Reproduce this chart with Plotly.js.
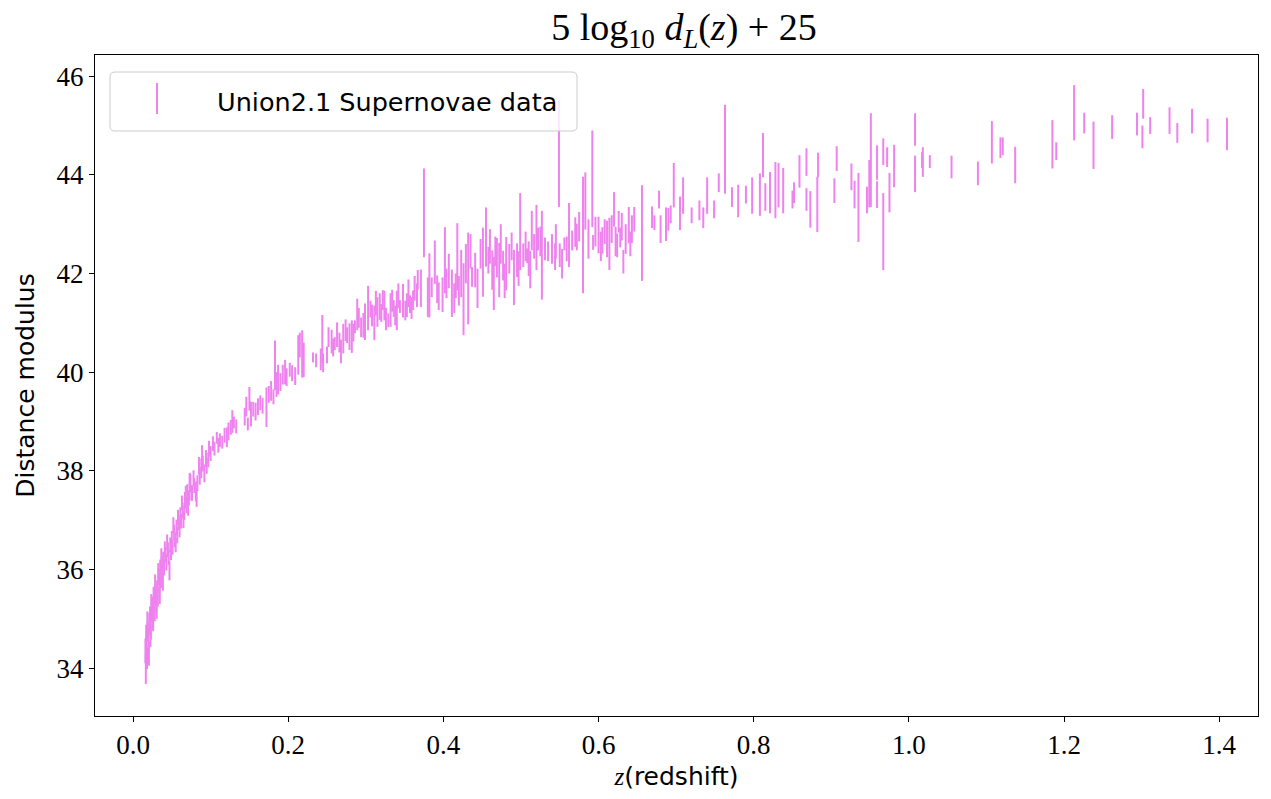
<!DOCTYPE html>
<html>
<head>
<meta charset="utf-8">
<script src="https://cdn.plot.ly/plotly-3.0.1.min.js"></script>
<style>html,body{margin:0;padding:0;background:#fff;}#chart{width:1271px;height:799px;}</style>
</head>
<body>
<div id="chart"></div>
<script>
// ---- Data: redshift z, distance modulus mu, error (half length) ----
const zLow = [0.0165,0.016,0.017,0.018,0.019,0.020,0.021,0.022,0.023,0.024,0.025,0.026,0.027,0.028,0.029,0.030,0.031,0.032,0.033,0.034,0.035,0.036,0.037,0.038,0.039,0.040,
  0.042,0.043,0.045,0.046,0.047,0.048,0.050,0.051,0.053,0.054,0.056,0.057,0.059,
  0.061,0.062,0.064,0.066,0.067,0.069,0.070,0.072,0.073,
  0.076,0.079,0.081,0.083,0.086,0.088,0.090,0.092,0.094,0.097,0.100];
const muLow = [33.98,34.35,34.60,34.20,34.75,34.55,34.90,35.05,34.80,35.10,35.25,34.95,35.35,35.15,35.50,35.30,35.60,35.45,35.85,35.70,36.00,35.80,36.10,35.95,36.20,36.05,
  36.30,36.15,36.40,36.25,35.98,36.50,36.62,36.45,36.75,36.60,36.85,36.70,36.95,
  37.10,36.98,37.20,37.15,37.40,37.30,37.55,37.45,37.68,
  37.55,37.70,37.58,37.75,37.90,38.05,38.15,37.95,38.25,38.22,38.35];
const errLow = [0.30,0.25,0.28,0.22,0.20,0.25,0.22,0.20,0.22,0.18,0.20,0.20,0.18,0.20,0.18,0.17,0.18,0.20,0.17,0.18,0.20,0.18,0.17,0.18,0.16,0.17,
  0.16,0.17,0.15,0.16,0.20,0.15,0.16,0.15,0.16,0.15,0.16,0.17,0.15,
  0.16,0.15,0.16,0.15,0.17,0.16,0.18,0.15,0.28,
  0.16,0.15,0.20,0.16,0.18,0.20,0.16,0.18,0.17,0.15,0.15];

const zLowB = [0.0175,0.0185,0.0205,0.0225,0.0235,0.0255,0.0265,0.0285,0.0305,0.0325,0.0345,0.0365,0.0385,
  0.041,0.044,0.049,0.052,0.055,0.058,0.060,0.063,0.065,0.068,0.071,0.074,0.078,0.082,0.085,0.089,0.095,0.098];
const muLowB = [34.45,34.90,34.30,34.65,35.30,35.00,35.45,35.70,35.20,35.95,35.50,36.25,35.75,
  36.40,36.55,36.35,36.90,36.50,37.05,36.80,37.35,37.00,37.55,37.25,37.75,37.85,37.45,38.10,38.35,38.10,38.45];
const errLowB = [0.30,0.25,0.25,0.22,0.20,0.22,0.20,0.20,0.20,0.18,0.20,0.18,0.18,
  0.17,0.16,0.16,0.16,0.15,0.16,0.15,0.15,0.16,0.15,0.16,0.18,0.16,0.18,0.18,0.17,0.16,0.16];

const zNear = [0.103,0.105,0.108,0.110,0.112,0.115,0.118,0.121,0.123,0.126,0.128,0.130,0.133,
  0.144,0.146,0.148,0.150,0.152,0.155,0.158,0.161,0.164,0.167,
  0.172,0.175,0.178,0.181,0.183,0.185,0.187,0.190,0.193,0.196,0.198,0.202,0.205,0.209];
const muNear = [38.55,38.45,38.67,38.52,38.62,38.58,38.72,38.68,38.80,38.88,39.00,38.98,38.90,
  39.10,39.30,38.95,39.46,39.15,39.25,39.20,39.30,39.38,39.32,
  39.29,39.55,39.62,39.50,40.14,39.75,39.85,39.80,39.95,40.00,39.90,40.05,39.98,39.92];
const errNear = [0.15,0.14,0.12,0.15,0.14,0.13,0.15,0.20,0.18,0.15,0.23,0.12,0.14,
  0.18,0.20,0.13,0.24,0.25,0.15,0.18,0.17,0.15,0.16,
  0.40,0.17,0.20,0.15,0.50,0.25,0.30,0.18,0.20,0.25,0.18,0.14,0.16,0.18];

const zMid = [0.213,0.215,0.218,0.220,0.232,0.236,0.242,0.244,0.245,0.250,
  0.252,0.256,0.260,0.263,0.268,0.271,0.276,0.279,0.282,0.286,
  0.289,0.294,0.299,0.303,0.306,0.311,0.315,0.318,0.322,0.326,
  0.329,0.332,0.336,0.340,0.344,0.348,0.353,0.357,0.361,0.366,
  0.367,0.371,0.375,0.380,0.382,0.385,0.389,0.392,0.394,0.399,0.402];
const muMid = [40.35,40.55,40.37,40.25,40.30,40.24,40.26,40.67,40.19,40.35,
  40.71,40.62,40.58,40.76,40.42,40.68,40.75,40.72,40.72,40.92,
  41.17,40.91,41.02,41.30,41.28,41.00,41.22,41.33,41.46,41.08,
  41.05,41.26,41.29,41.25,41.33,41.45,41.36,41.38,41.46,41.56,
  41.87,41.70,43.23,41.52,41.76,41.72,42.23,41.68,41.54,41.57,42.27];
const errMid = [0.40,0.25,0.48,0.35,0.10,0.14,0.22,0.49,0.19,0.17,
  0.20,0.24,0.13,0.25,0.24,0.30,0.16,0.27,0.33,0.13,
  0.32,0.20,0.37,0.45,0.17,0.35,0.30,0.27,0.20,0.23,
  0.14,0.34,0.17,0.40,0.13,0.34,0.24,0.18,0.20,0.24,
  0.20,0.38,0.90,0.40,0.65,0.20,0.44,0.28,0.28,0.35,0.67];

const zMidB = [0.258,0.266,0.274,0.284,0.291,0.297,0.308,0.313,0.320,0.324,0.334,0.338,0.342,0.351,0.355,0.359,0.363];
const muMidB = [40.50,40.60,40.85,40.80,41.10,40.95,41.15,41.40,41.20,41.35,41.45,41.15,41.55,41.25,41.60,41.30,41.70];
const errMidB = [0.18,0.20,0.22,0.18,0.20,0.25,0.22,0.25,0.18,0.30,0.22,0.20,0.25,0.20,0.28,0.22,0.25];

const zFar = [0.411,0.414,0.418,0.423,0.426,0.432,0.437,0.441,0.451,0.455,
  0.458,0.463,0.465,0.469,0.472,0.477,0.481,0.491,0.495,0.499,
  0.503,0.508,0.512,0.514,0.520,0.522,0.527,0.531,0.540,0.544,
  0.549,0.550,0.556,0.562,0.566,0.570,0.572,0.580,0.583,0.592,
  0.593,0.600,0.605];
const muFar = [41.60,41.50,42.34,42.00,41.48,41.90,41.93,42.07,42.23,42.74,
  42.27,42.07,41.80,42.32,42.07,42.16,42.20,41.92,42.27,42.85,
  42.37,42.36,42.08,42.87,42.73,42.70,42.37,42.50,42.50,42.34,
  44.43,42.37,42.60,42.78,42.67,42.84,42.74,42.78,43.47,43.92,
  42.63,42.78,42.67];
const errFar = [0.48,0.30,0.68,0.48,0.73,0.93,0.20,0.35,0.70,0.60,
  0.27,0.40,0.54,0.40,0.55,0.30,0.54,0.56,0.34,0.78,
  0.24,0.15,0.38,0.40,0.66,0.23,0.90,0.23,0.30,0.27,
  1.08,0.24,0.13,0.65,0.20,0.30,0.27,1.18,0.58,0.98,
  0.15,0.37,0.27];

const zFarB = [0.404,0.407,0.416,0.420,0.429,0.435,0.444,0.448,0.460,0.467,0.474,0.479,0.485,0.488,0.497,
  0.506,0.510,0.517,0.525,0.535,0.545,0.553,0.559,0.575,0.587,0.596,0.603];
const muFarB = [41.80,42.05,41.75,41.65,42.20,42.45,41.70,42.40,42.55,42.45,42.60,41.85,42.30,42.55,42.10,
  42.55,42.30,42.55,42.65,42.45,42.65,42.20,42.50,42.95,42.70,42.85,42.55];
const errFarB = [0.30,0.35,0.25,0.30,0.40,0.35,0.40,0.30,0.35,0.30,0.40,0.35,0.30,0.28,0.35,
  0.30,0.35,0.25,0.30,0.20,0.35,0.30,0.25,0.30,0.40,0.30,0.30];

const zDeep = [0.611,0.614,0.617,0.620,0.624,0.628,0.630,0.632,0.639,0.643,
  0.656,0.669,0.672,0.678,0.680,0.687,0.690,0.693,0.697,0.705,
  0.709,0.720,0.730,0.735,0.740,0.749,0.755,0.763,0.772,0.780,
  0.790,0.798,0.808,0.812,0.815,0.821,0.828,0.832,
  0.608,0.622,0.626,0.635,0.641,0.646];
const muDeep = [42.70,42.60,42.90,43.30,42.57,42.73,42.95,42.24,42.98,42.90,
  42.82,43.14,43.03,43.50,42.90,43.00,43.10,43.20,43.79,43.22,
  43.58,43.18,43.28,43.13,43.58,43.30,43.84,44.52,43.55,43.47,
  43.60,43.58,43.60,44.40,43.55,43.64,43.69,43.79,
  42.85,42.65,43.05,42.70,42.60,43.10];
const errDeep = [0.37,0.53,0.28,0.35,0.24,0.20,0.28,0.24,0.37,0.28,
  0.97,0.22,0.15,0.18,0.28,0.34,0.23,0.18,0.45,0.34,
  0.37,0.16,0.20,0.21,0.37,0.18,0.19,0.90,0.20,0.33,
  0.18,0.37,0.43,0.45,0.28,0.42,0.57,0.45,
  0.25,0.30,0.22,0.30,0.25,0.25];

const zHigh = [0.838,0.850,0.852,0.859,0.868,0.868,0.873,0.882,0.883,0.904,
  0.907,0.926,0.930,0.935,0.946,0.949,0.951,0.959,0.959,0.967,
  0.967,0.972,0.975,0.981,1.008,1.008,1.017,1.018,1.027];
const muHigh = [43.68,43.50,43.64,44.07,44.26,43.50,43.30,43.40,44.20,43.68,
  44.33,43.96,43.60,43.34,43.49,43.82,44.30,44.25,43.60,44.47,
  42.85,44.36,43.64,44.18,44.92,44.02,44.30,44.26,44.27];
const errHigh = [0.46,0.18,0.21,0.33,0.28,0.23,0.37,0.56,0.25,0.25,
  0.25,0.27,0.28,0.70,0.27,0.48,0.95,0.35,0.27,0.27,
  0.78,0.20,0.40,0.43,0.33,0.37,0.16,0.30,0.13];

const zTop = [1.055,1.089,1.107,1.118,1.121,1.137,1.185,1.190,1.213,1.226,
  1.238,1.262,1.294,1.301,1.302,1.311,1.336,1.346,1.365,1.385,1.410];
const muTop = [44.16,44.03,44.66,44.55,44.58,44.20,44.62,44.48,45.26,45.05,
  44.60,44.97,45.03,44.77,45.44,45.00,45.10,44.85,45.09,44.90,44.83];
const errTop = [0.23,0.24,0.43,0.21,0.18,0.37,0.49,0.18,0.56,0.21,
  0.48,0.24,0.23,0.23,0.30,0.17,0.27,0.20,0.25,0.24,0.33];

const xTicks = [0.0,0.2,0.4,0.6,0.8,1.0,1.2,1.4];
const yTicks = [34,36,38,40,42,44,46];
const seriesName = 'Union2.1 Supernovae data';

// ---- assemble ----
const zAll = [].concat(zLow, zLowB, zNear, zMid, zMidB, zFar, zFarB, zDeep, zHigh, zTop);
const muAll = [].concat(muLow, muLowB, muNear, muMid, muMidB, muFar, muFarB, muDeep, muHigh, muTop);
const errAll = [].concat(errLow, errLowB, errNear, errMid, errMidB, errFar, errFarB, errDeep, errHigh, errTop);

const COLOR = 'violet';
const W = 1271, H = 799;
const M = {l: 95, r: 13, t: 55, b: 83};
const PW = W - M.l - M.r, PH = H - M.t - M.b;
const px2x = px => (px - M.l) / PW;
const py2y = py => (H - M.b - py) / PH;

function roundRectPath(x0, y0, x1, y1, r) {
  const X = px2x, Y = py2y;
  const p = [];
  p.push('M' + X(x0 + r) + ',' + Y(y0));
  p.push('L' + X(x1 - r) + ',' + Y(y0));
  p.push('Q' + X(x1) + ',' + Y(y0) + ' ' + X(x1) + ',' + Y(y0 + r));
  p.push('L' + X(x1) + ',' + Y(y1 - r));
  p.push('Q' + X(x1) + ',' + Y(y1) + ' ' + X(x1 - r) + ',' + Y(y1));
  p.push('L' + X(x0 + r) + ',' + Y(y1));
  p.push('Q' + X(x0) + ',' + Y(y1) + ' ' + X(x0) + ',' + Y(y1 - r));
  p.push('L' + X(x0) + ',' + Y(y0 + r));
  p.push('Q' + X(x0) + ',' + Y(y0) + ' ' + X(x0 + r) + ',' + Y(y0));
  p.push('Z');
  return p.join(' ');
}

const trace = {
  type: 'scatter',
  mode: 'markers',
  x: zAll,
  y: muAll,
  name: seriesName,
  marker: {size: 1, color: 'rgba(0,0,0,0)'},
  error_y: {type: 'data', array: errAll, visible: true, color: COLOR, thickness: 2, width: 0},
  hoverinfo: 'x+y',
  showlegend: false
};

const serif = 'Liberation Serif, DejaVu Serif, serif';
const sans = 'DejaVu Sans, Noto Sans, sans-serif';

const layout = {
  width: W, height: H,
  margin: M,
  paper_bgcolor: 'white',
  plot_bgcolor: 'white',
  showlegend: false,
  title: {
    text: '5 log<sub>10</sub> <i>d</i><sub><i>L</i></sub>(<i>z</i>) + 25',
    font: {family: serif, size: 38, color: 'black'},
    xref: 'paper', x: px2x(684), xanchor: 'center',
    yref: 'container', y: 1 - 27 / H, yanchor: 'middle'
  },
  xaxis: {
    range: [-0.049, 1.450],
    tickvals: xTicks,
    ticktext: xTicks.map(v => v.toFixed(1)),
    showline: true, mirror: true, linecolor: 'black', linewidth: 1,
    ticks: 'outside', ticklen: 5, tickcolor: 'black', tickwidth: 1,
    tickfont: {family: serif, size: 27, color: 'black'},
    showgrid: false, zeroline: false,
    title: {
      text: '<span style="font-family:Liberation Serif"><i>z</i></span>(redshift)',
      font: {family: sans, size: 25, color: 'black'},
      standoff: 8
    }
  },
  yaxis: {
    range: [33.03, 46.43],
    tickvals: yTicks,
    ticktext: yTicks.map(v => String(v)),
    showline: true, mirror: true, linecolor: 'black', linewidth: 1,
    ticks: 'outside', ticklen: 5, tickcolor: 'black', tickwidth: 1,
    tickfont: {family: serif, size: 27, color: 'black'},
    showgrid: false, zeroline: false,
    title: {
      text: 'Distance modulus',
      font: {family: sans, size: 25, color: 'black'},
      standoff: 14
    }
  },
  shapes: [
    {type: 'path', xref: 'paper', yref: 'paper', path: roundRectPath(110, 72, 577, 131, 5),
     line: {color: 'rgba(204,204,204,1)', width: 1}, fillcolor: 'rgba(255,255,255,0.8)', layer: 'above'},
    {type: 'line', xref: 'paper', yref: 'paper', x0: px2x(157), x1: px2x(157), y0: py2y(83), y1: py2y(114),
     line: {color: COLOR, width: 2}, layer: 'above'}
  ],
  annotations: [
    {xref: 'paper', yref: 'paper', x: px2x(215), y: py2y(102), xanchor: 'left', yanchor: 'middle',
     text: seriesName, showarrow: false, font: {family: sans, size: 25.5, color: 'black'}}
  ]
};

Plotly.newPlot('chart', [trace], layout, {displayModeBar: false, staticPlot: true});
</script>
</body>
</html>
